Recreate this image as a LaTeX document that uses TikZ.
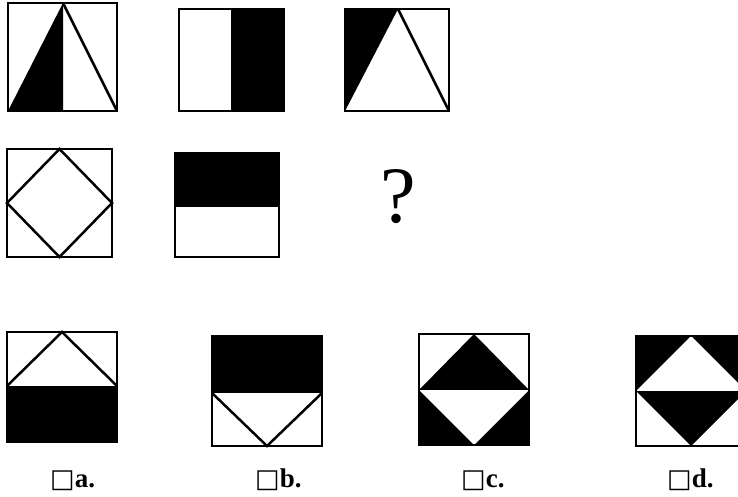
\documentclass[tikz,border=0pt]{standalone}
\usepackage{fontspec}
\setmainfont{Liberation Serif}
\newfontfamily\symfont{DejaVu Sans}
\begin{document}
\begin{tikzpicture}[x=1pt,y=-1pt,
  frame/.style={draw=black,line width=2.9pt,line join=miter},
  edge/.style={draw=black,line width=2.5pt},
  blk/.style={fill=black},
  wht/.style={fill=white},
  lbl/.style={anchor=base west,inner sep=0pt,font=\fontsize{27}{30}\selectfont\bfseries}]
\useasboundingbox[fill=white] (0,0) rectangle (738,497);
% ---- row 1 ----
% box 1
\coordinate (p1) at (63,3);
\fill[blk] (8,111) -- (p1) -- (63,111) -- cycle;
\draw[edge] (p1) -- (117,111);
\draw[frame] (8,3) rectangle (117,111);
% box 2
\fill[blk] (231,9) rectangle (284,111);
\draw[frame] (179,9) rectangle (284,111);
% box 3
\coordinate (p3) at (398,9);
\fill[blk] (345,9) -- (p3) -- (345,111) -- cycle;
\draw[edge] (p3) -- (449,111);
\draw[frame] (345,9) rectangle (449,111);
% ---- row 2 ----
\draw[edge,line join=miter] (59.5,149) -- (112,203) -- (59.5,257) -- (7,203) -- cycle;
\draw[frame] (7,149) rectangle (112,257);
\fill[blk] (175,153) rectangle (279,207);
\draw[frame] (175,153) rectangle (279,257);
\node[anchor=base,inner sep=0pt,font=\fontsize{80}{90}\selectfont] (q) at (398,222) {?};
% ---- options ----
% a
\fill[blk] (7,386) rectangle (117,442);
\draw[edge] (7,386) -- (62,332) -- (117,386);
\draw[frame] (7,332) rectangle (117,442);
% b
\fill[blk] (212,336) rectangle (322,393);
\draw[edge] (212,393) -- (267,446) -- (322,393);
\draw[frame] (212,336) rectangle (322,446);
% c
\fill[blk] (419,390) -- (474,334) -- (529,390) -- cycle;
\fill[blk] (419,390) rectangle (529,445);
\fill[wht] (419,390) -- (474,445) -- (529,390) -- cycle;
\draw[frame] (419,334) rectangle (529,445);
% d
\fill[blk] (636,336) rectangle (746,391);
\fill[wht] (636,391) -- (691,336) -- (746,391) -- cycle;
\fill[blk] (636,391) -- (691,446) -- (746,391) -- cycle;
\draw[frame] (636,336) rectangle (746,446);
% labels
\node[lbl] (la) at (50,487) {{\mdseries\symfont\fontsize{26}{28}\selectfont □}a.};
\node[lbl] (lb) at (255,487) {{\mdseries\symfont\fontsize{26}{28}\selectfont □}b.};
\node[lbl] (lc) at (461,487) {{\mdseries\symfont\fontsize{26}{28}\selectfont □}c.};
\node[lbl] (ld) at (667,487) {{\mdseries\symfont\fontsize{26}{28}\selectfont □}d.};
\end{tikzpicture}
\end{document}
